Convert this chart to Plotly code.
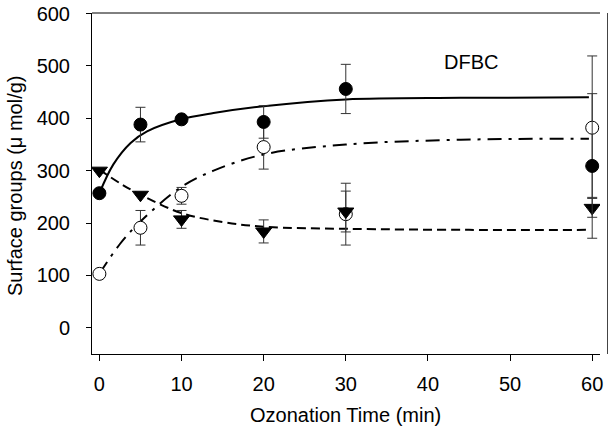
import plotly.graph_objects as go

# Measured data
time = [0, 5, 10, 20, 30, 60]
filled_vals = [257, 388, 398, 393, 456, 309]
filled_err = [0, 33, 5, 31, 47, 138]
open_vals = [103, 191, 252, 345, 217, 382]
open_err_plus = [0, 33, 16, 42, 59, 137]
open_err_minus = [0, 33, 16, 42, 59, 133]
tri_vals = [300, 254, 207, 184, 222, 229]
tri_err = [0, 0, 17, 22, 39, 18]

# Fitted curves
fit_t = [0, 1.7, 3.8, 5.8, 9.9, 13.9, 20, 30, 44, 59.6]
fit_filled = [257, 312, 353, 375, 398, 410, 423, 436, 439, 440]
fit_open_t = [0, 2.5, 5, 9.9, 13.9, 20, 30, 44, 59.6]
fit_open = [103, 160, 203, 268, 300, 331, 350, 359, 361]
fit_tri_t = [0, 2.5, 5, 10, 15, 20, 30, 45, 59.6]
fit_tri = [302, 276, 254, 219, 202, 193, 189, 187, 187]

x_ticks = [0, 10, 20, 30, 40, 50, 60]
y_ticks = [0, 100, 200, 300, 400, 500, 600]

FONT = "Liberation Sans, Arial, sans-serif"
FS = 20

# desired plot area in page pixels
PX0, PX1, PY0, PY1 = 92, 600, 13, 354
W, H = 616, 432
L, T = PX0, PY0
R, B = W - PX1, H - PY1
pw, ph = PX1 - PX0, PY1 - PY0


def px(xp):
    return (xp - PX0) / pw


def py(yp):
    return 1 - (yp - PY0) / ph


fig = go.Figure()

fig.add_trace(go.Scatter(x=fit_t, y=fit_filled, mode="lines", line=dict(color="black", width=2, shape="spline"), showlegend=False, hoverinfo="skip"))
fig.add_trace(go.Scatter(x=fit_open_t, y=fit_open, mode="lines", line=dict(color="black", width=2, shape="spline", dash="14px,7px,3px,7px"), showlegend=False, hoverinfo="skip"))
fig.add_trace(go.Scatter(x=fit_tri_t, y=fit_tri, mode="lines", line=dict(color="black", width=2, shape="spline", dash="9px,5px"), showlegend=False, hoverinfo="skip"))

err_style = dict(color="#333333", thickness=1, width=5)

fig.add_trace(go.Scatter(x=time, y=open_vals, mode="markers",
                         marker=dict(symbol="circle", size=13, color="white", line=dict(color="black", width=1)),
                         error_y=dict(type="data", array=open_err_plus, arrayminus=open_err_minus, symmetric=False, **err_style),
                         showlegend=False))
fig.add_trace(go.Scatter(x=time, y=tri_vals, mode="markers",
                         marker=dict(symbol="triangle-down", size=14, color="black", line=dict(color="black", width=1)),
                         error_y=dict(type="data", array=tri_err, **err_style),
                         showlegend=False))
fig.add_trace(go.Scatter(x=time, y=filled_vals, mode="markers",
                         marker=dict(symbol="circle", size=13, color="black", line=dict(color="black", width=1)),
                         error_y=dict(type="data", array=filled_err, **err_style),
                         showlegend=False))

ann = dict(xref="paper", yref="paper", showarrow=False, xanchor="center", yanchor="middle",
           font=dict(family=FONT, size=FS, color="black"))
fig.add_annotation(x=px(471), y=py(62), text="DFBC", **ann)
fig.add_annotation(x=px(345), y=py(415), text="Ozonation Time (min)", **ann)
fig.add_annotation(x=px(15), y=py(186), text="Surface groups (μ mol/g)", textangle=-90, **ann)

fig.add_shape(type="line", xref="paper", yref="paper", x0=0, x1=1, y0=1, y1=1, line=dict(color="black", width=1))
fig.add_shape(type="line", xref="paper", yref="paper", x0=px(607.5), x1=px(607.5), y0=0, y1=1, line=dict(color="#444444", width=1))

fig.update_layout(
    width=W, height=H,
    margin=dict(l=L, r=R, t=T, b=B),
    plot_bgcolor="white", paper_bgcolor="white",
    font=dict(family=FONT, size=FS, color="black"),
    xaxis=dict(range=[-0.9, 60.95], tickvals=x_ticks, ticks="outside", ticklen=6, tickwidth=1, tickcolor="black",
               showline=True, linecolor="black", linewidth=1, showgrid=False, zeroline=False, automargin=False,
               tickfont=dict(size=FS), ticklabelstandoff=6),
    yaxis=dict(range=[-50, 601], tickvals=y_ticks, ticks="outside", ticklen=5, tickwidth=1, tickcolor="black",
               showline=True, linecolor="black", linewidth=1, showgrid=False, zeroline=False, automargin=False,
               tickfont=dict(size=FS), ticklabelstandoff=12),
)

fig.write_html("out.html", config={"displayModeBar": False},
               post_script="document.body.style.margin='0px';document.body.style.overflow='hidden';")
